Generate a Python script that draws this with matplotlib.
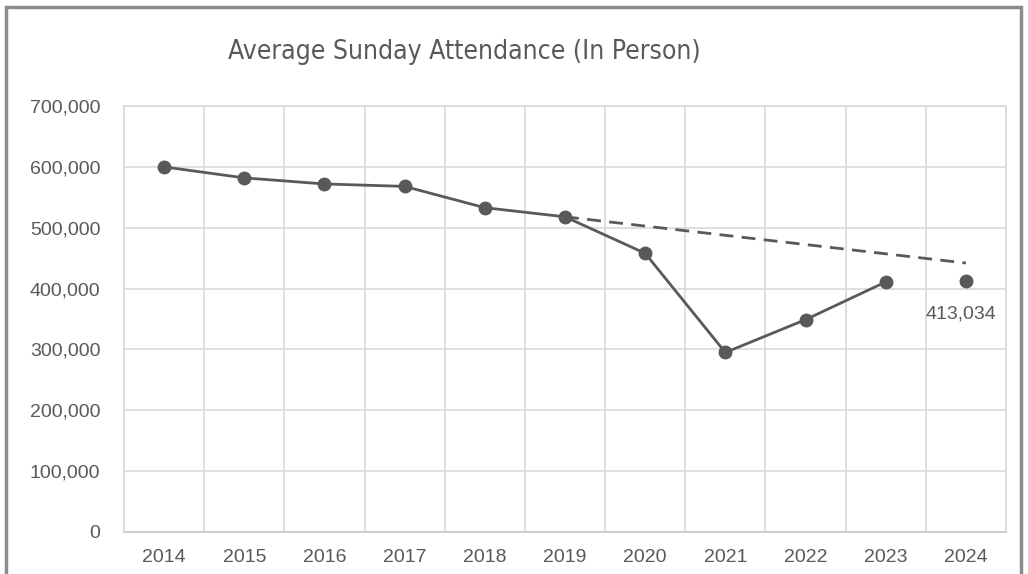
import matplotlib.pyplot as plt
import matplotlib.ticker as ticker
from matplotlib.patches import Rectangle

years = ['2014', '2015', '2016', '2017', '2018', '2019', '2020', '2021', '2022', '2023', '2024']
attendance = [600000, 582000, 572000, 568000, 533000, 518000, 458000, 295000, 349000, 411000]
latest = 413034
trend_years = ['2019', '2024']
trend_values = [518000, 442000]

grey = '#595959'
gridc = '#d9d9d9'

fig = plt.figure(figsize=(10.28, 5.74), dpi=100)
ax = fig.add_axes([0.1206, 0.0732, 0.858, 0.742])

x = list(range(len(years)))
ax.plot(x[:len(attendance)], attendance, color=grey, lw=2, marker='o', ms=9, zorder=3)
ax.plot(x[-1], latest, color=grey, marker='o', ms=9, ls='none', zorder=3)
tx = [years.index(y) for y in trend_years]
ax.plot(tx, trend_values, color=grey, lw=2, ls=(0, (5, 3)), zorder=2)

ax.annotate(f'{latest:,}', (x[-1], latest), xytext=(-5, -33), textcoords='offset pixels',
            ha='center', va='center', fontsize=14, color=grey, family='Liberation Sans')

ax.set_xlim(-0.5, len(years) - 0.5)
ax.set_ylim(0, 700000)
ax.set_xticks(x)
ax.set_xticklabels(years)
ax.xaxis.set_minor_locator(ticker.FixedLocator([i - 0.5 for i in range(len(years) + 1)]))
ax.yaxis.set_major_locator(ticker.MultipleLocator(100000))
ax.yaxis.set_major_formatter(ticker.FuncFormatter(lambda v, p: f'{int(v):,}'))
ax.grid(True, which='minor', axis='x', color=gridc, lw=1.2)
ax.grid(True, which='major', axis='y', color=gridc, lw=1.2)
ax.tick_params(which='both', length=0)
ax.tick_params(axis='x', pad=12)
ax.tick_params(axis='y', pad=17)
for lab in ax.get_xticklabels() + ax.get_yticklabels():
    lab.set_fontsize(14)
    lab.set_color(grey)
    lab.set_family('Liberation Sans')
for s in ax.spines.values():
    s.set_color(gridc)
    s.set_linewidth(1.2)
ax.spines['bottom'].set_color('#c8c8c8')

fig.text(0.452, 0.909, 'Average Sunday Attendance (In Person)', ha='center', va='center',
         fontsize=19, color=grey, family='DejaVu Sans', fontstretch='condensed')

fig.patches.append(Rectangle((6 / 1028, -0.1), 1015 / 1028, 1 - 7 / 574 + 0.1, transform=fig.transFigure,
                             fill=False, edgecolor='#8c8c8c', lw=2.5))

fig.savefig('out.png', dpi=100)
